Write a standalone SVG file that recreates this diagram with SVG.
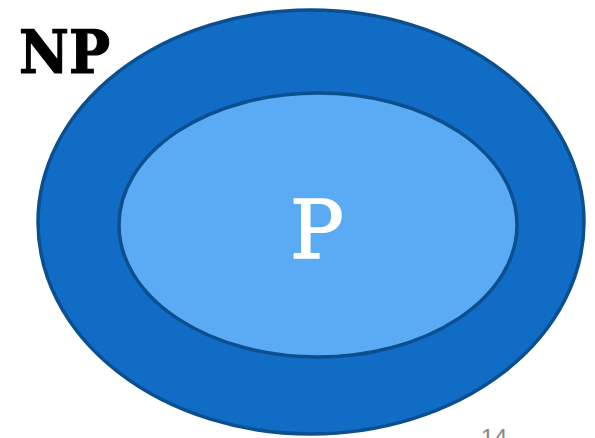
<svg xmlns="http://www.w3.org/2000/svg" width="595" height="438" viewBox="0 0 595 438">
<style>
.ring{stroke:#0b4f8e;stroke-width:3.5}
.slab{font-family:'DejaVu Serif','Liberation Serif',serif}
</style>
<rect width="595" height="438" fill="#ffffff"/>
<g id="NP">
<ellipse class="ring" cx="311" cy="222" rx="273" ry="212" fill="#116cc6"/>
<text class="slab" x="19" y="73" font-weight="bold" font-size="60" textLength="91" lengthAdjust="spacingAndGlyphs" fill="#000" stroke="#000" stroke-width="1.2">NP</text>
</g>
<g id="P">
<ellipse class="ring" cx="318" cy="225" rx="199" ry="132" fill="#5aabf3"/>
<text class="slab" x="317" y="258" text-anchor="middle" font-size="80" fill="#ffffff" stroke="#ffffff" stroke-width="1.5">P</text>
</g>
<g id="connectors"></g>
<text x="494" y="446" text-anchor="middle" font-family="Liberation Sans, sans-serif" font-size="24" fill="#888888">14</text>
</svg>
